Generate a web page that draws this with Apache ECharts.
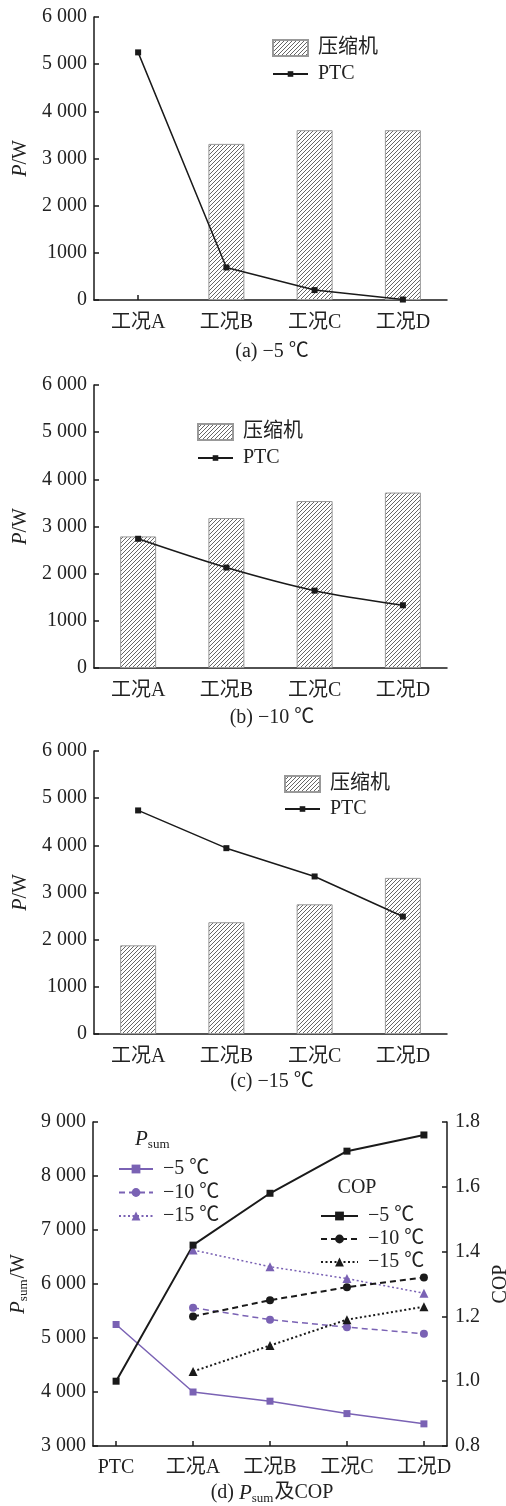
<!DOCTYPE html>
<html>
<head>
<meta charset="utf-8">
<script src="https://cdn.jsdelivr.net/npm/echarts@6/dist/echarts.min.js"></script>
<style>
  html, body { margin: 0; padding: 0; background: #fff; }
  #chart { width: 506px; height: 1506px; }
</style>
</head>
<body>
<div id="chart"></div>
<script>
// 工况
const cats = ['工况A', '工况B', '工况C', '工况D'];
// (a) -5 ℃
const compA = ['-', 3310, 3600, 3600];
const ptcA = [5250, 690, 210, 10];
// (b) -10 ℃
const compB = [2790, 3180, 3540, 3720];
const ptcB = [2740, 2130, 1640, 1330];
// (c) -15 ℃
const compC = [1880, 2370, 2750, 3310];
const ptcC = [4740, 3940, 3340, 2490];
// (d) Psum 及 COP
const dCats = ['PTC', '工况A', '工况B', '工况C', '工况D'];
const psum5 = [5250, 4000, 3830, 3600, 3410];
const psum10 = [null, 5560, 5340, 5200, 5080];
const psum15 = [null, 6630, 6320, 6100, 5830];
const cop5 = [1.00, 1.42, 1.58, 1.71, 1.76];
const cop10 = [null, 1.20, 1.25, 1.29, 1.32];
const cop15 = [null, 1.03, 1.11, 1.19, 1.23];
// 刻度标签
const pTicks = ['0', '1000', '2 000', '3 000', '4 000', '5 000', '6 000'];
const sumTicks = ['3 000', '4 000', '5 000', '6 000', '7 000', '8 000', '9 000'];

const serif = '"Liberation Serif", "Noto Sans CJK SC", serif';
const ink = '#1a1a1a';
const purple = '#7a62b4';

// 斜线填充
function hatch() {
  const c = document.createElement('canvas');
  c.width = 4; c.height = 4;
  const g = c.getContext('2d');
  g.fillStyle = '#fff';
  g.fillRect(0, 0, 4, 4);
  g.strokeStyle = '#555';
  g.lineWidth = 0.9;
  g.beginPath();
  g.moveTo(-1, 5); g.lineTo(5, -1);
  g.moveTo(-1, 1); g.lineTo(1, -1);
  g.moveTo(3, 5); g.lineTo(5, 3);
  g.stroke();
  return c;
}
const hatchFill = { image: hatch(), repeat: 'repeat' };

const axisLine = { show: true, onZero: false, lineStyle: { color: ink, width: 1.5 } };
const axisTick = { show: true, inside: true, length: 5, lineStyle: { color: ink, width: 1.5 } };
const label = { color: '#222', fontSize: 20, fontFamily: serif };

const gridTops = [17, 385, 751];
const grids = gridTops.map(t => ({ left: 94, top: t, width: 353, height: 283, outerBoundsMode: 'none' }));
grids.push({ left: 93, top: 1122, width: 354, height: 324, outerBoundsMode: 'none' });

const xAxes = gridTops.map((t, i) => ({
  type: 'category', gridIndex: i, data: cats,
  axisLine, axisTick: { ...axisTick, alignWithLabel: true },
  axisLabel: { ...label, margin: 13 }, splitLine: { show: false }
}));
xAxes.push({
  type: 'value', gridIndex: 3, min: -0.3, max: 4.3,
  axisLine,
  axisTick: { ...axisTick, customValues: [0, 1, 2, 3, 4] },
  axisLabel: { ...label, margin: 12, customValues: [0, 1, 2, 3, 4], formatter: v => dCats[Math.round(v)] },
  splitLine: { show: false }
});

const yAxes = gridTops.map((t, i) => ({
  type: 'value', gridIndex: i, min: 0, max: 6000, interval: 1000,
  axisLine, axisTick, splitLine: { show: false },
  axisLabel: { ...label, margin: 7, formatter: v => pTicks[Math.round(v / 1000)] },
  name: '{i|P}/W', nameLocation: 'middle', nameGap: 57,
  nameTextStyle: { ...label, rich: { i: { fontStyle: 'italic', fontSize: 20, fontFamily: serif, color: '#222' } } }
}));
yAxes.push({
  type: 'value', gridIndex: 3, min: 3000, max: 9000, interval: 1000,
  axisLine, axisTick, splitLine: { show: false },
  axisLabel: { ...label, margin: 7, formatter: v => sumTicks[Math.round((v - 3000) / 1000)] },
  name: '{i|P}{s|sum}/W', nameLocation: 'middle', nameGap: 63,
  nameTextStyle: { ...label, rich: {
    i: { fontStyle: 'italic', fontSize: 21, fontFamily: serif, color: '#222', lineHeight: 22, verticalAlign: 'top' },
    s: { fontSize: 13, fontFamily: serif, color: '#222', lineHeight: 14, padding: [14, 1, 0, 0], verticalAlign: 'bottom' }
  } }
});
yAxes.push({
  type: 'value', gridIndex: 3, position: 'right', min: 0.8, max: 1.8, interval: 0.2,
  axisLine, axisTick, splitLine: { show: false },
  axisLabel: { ...label, margin: 8, formatter: v => v.toFixed(1) },
  name: 'COP', nameLocation: 'middle', nameGap: 42, nameTextStyle: { ...label }
});

const series = [];
[[compA, ptcA, false], [compB, ptcB, 0.3], [compC, ptcC, false]].forEach(([comp, ptc, smooth], i) => {
  series.push({
    name: '压缩机', type: 'bar', xAxisIndex: i, yAxisIndex: i, data: comp, barWidth: 36,
    itemStyle: { color: hatchFill, borderColor: '#999', borderWidth: 1 }
  });
  series.push({
    name: 'PTC', type: 'line', xAxisIndex: i, yAxisIndex: i, data: ptc, smooth,
    symbol: 'rect', symbolSize: 6, z: 5,
    lineStyle: { color: ink, width: 1.5 }, itemStyle: { color: ink }
  });
});

const pairs = arr => arr.map((v, i) => v == null ? null : [i, v]).filter(p => p);
const dLine = (name, arr, yi, color, width, type, symbol, size) => ({
  name, type: 'line', xAxisIndex: 3, yAxisIndex: yi, data: pairs(arr),
  symbol, symbolSize: size, z: 5,
  lineStyle: { color, width, type }, itemStyle: { color }
});
series.push(dLine('P|−5 ℃', psum5, 3, purple, 1.5, 'solid', 'rect', 7));
series.push(dLine('P|−10 ℃', psum10, 3, purple, 1.5, [6, 4], 'circle', 8));
series.push(dLine('P|−15 ℃', psum15, 3, purple, 1.5, [2, 2.5], 'triangle', 9));
series.push(dLine('C|−5 ℃', cop5, 4, ink, 2, 'solid', 'rect', 7));
series.push(dLine('C|−10 ℃', cop10, 4, ink, 2, [6, 4], 'circle', 8));
series.push(dLine('C|−15 ℃', cop15, 4, ink, 2, [2, 2.5], 'triangle', 9));

const legendBase = {
  orient: 'vertical', itemWidth: 35, itemHeight: 16, itemGap: 10,
  textStyle: { ...label, lineHeight: 16, padding: [0, 0, 0, 5] }, selectedMode: false
};
const barLegend = (left, top) => ({ ...legendBase, left, top: top - 4, icon: 'rect', data: ['压缩机'] });
const lineLegend = (left, cy) => ({ ...legendBase, left, top: cy - 12, itemHeight: 7, data: ['PTC'] });
const legends = [
  barLegend(267, 37), lineLegend(267, 71),
  barLegend(192, 421), lineLegend(192, 455),
  barLegend(279, 773), lineLegend(279, 806),
  { ...legendBase, left: 113, top: 1154, itemWidth: 34, itemHeight: 11, itemGap: 3.5,
    textStyle: { ...legendBase.textStyle, lineHeight: 20 },
    data: ['P|−5 ℃', 'P|−10 ℃', 'P|−15 ℃'], formatter: n => n.split('|')[1] },
  { ...legendBase, left: 315, top: 1201, itemWidth: 37, itemHeight: 11, itemGap: 3,
    textStyle: { ...legendBase.textStyle, lineHeight: 16 },
    data: ['C|−5 ℃', 'C|−10 ℃', 'C|−15 ℃'], formatter: n => n.split('|')[1] }
];

const cap = (text, y, rich) => ({
  type: 'text', x: 272, y,
  style: { text, fill: '#222', font: '20px ' + serif, textAlign: 'center', textVerticalAlign: 'middle', rich }
});
const subRich = {
  i: { fontStyle: 'italic', fontSize: 21, fontFamily: serif, fill: '#222', lineHeight: 22, verticalAlign: 'top' },
  s: { fontSize: 13, fontFamily: serif, fill: '#222', lineHeight: 14, padding: [14, 1, 0, 0], verticalAlign: 'bottom' },
  n: { fontSize: 20, fontFamily: serif, fill: '#222', lineHeight: 22, verticalAlign: 'top' }
};
const graphics = [
  cap('(a) −5 ℃', 352),
  cap('(b) −10 ℃', 718),
  cap('(c) −15 ℃', 1082),
  cap('{n|(d) }{i|P}{s|sum}{n|及COP}', 1494, subRich),
  { type: 'text', x: 135, y: 1140,
    style: { text: '{i|P}{s|sum}', rich: subRich, textVerticalAlign: 'middle' } },
  { type: 'text', x: 357, y: 1188,
    style: { text: 'COP', fill: '#222', font: '20px ' + serif, textAlign: 'center', textVerticalAlign: 'middle' } }
];

const chart = echarts.init(document.getElementById('chart'));
chart.setOption({
  animation: false,
  backgroundColor: '#fff',
  grid: grids,
  xAxis: xAxes,
  yAxis: yAxes,
  legend: legends,
  series,
  graphic: graphics
});
</script>
</body>
</html>
